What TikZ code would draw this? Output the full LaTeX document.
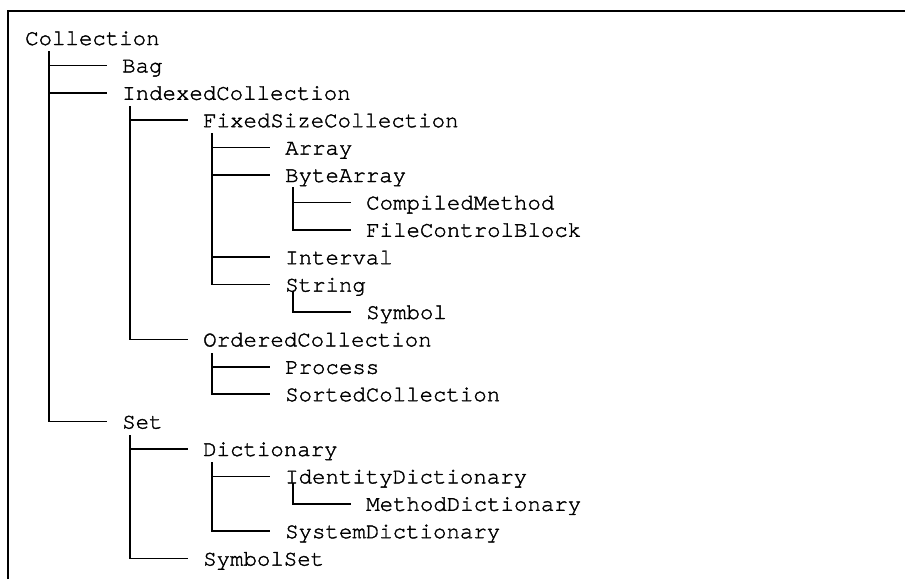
\documentclass[tikz,border=0pt]{standalone}
\usepackage{fontspec}
\setmonofont[FakeBold=1.6]{TeX Gyre Cursor}
\usetikzlibrary{calc}
\newcommand\mytreekids[3]{%
  \draw[conn] let \p1=([shift={(-73pt,7pt)}]#2.base west), \p2=([yshift=-#3]#1.base west) in
    (\x1,\y2) |- ([shift={(-16pt,7pt)}]#2.base west);}
\newcommand\mybranchto[1]{%
  \draw[conn] ([shift={(-73pt,7pt)}]#1.base west) -- ([shift={(-16pt,7pt)}]#1.base west);}
\begin{document}
\begin{tikzpicture}[x=1pt,y=-1pt,
  cls/.style={anchor=base west, inner sep=0pt, font=\ttfamily\fontsize{22.4}{22.4}\selectfont},
  conn/.style={line width=1.6pt, line cap=rect},
  frame/.style={line width=2pt}]
\useasboundingbox (0,0) rectangle (905,579);
\draw[frame] (7.5,579) -- (7.5,11) -- (905,11);
\node[cls] (collection) at (25,45) {Collection};
\node[cls] (bag) at (122,72.4) {Bag};
\node[cls] (indexed) at (122,99.8) {IndexedCollection};
\node[cls] (fixed) at (203,127.2) {FixedSizeCollection};
\node[cls] (array) at (285,154.6) {Array};
\node[cls] (bytearray) at (285,182) {ByteArray};
\node[cls] (compiled) at (366,209.4) {CompiledMethod};
\node[cls] (filecb) at (366,236.8) {FileControlBlock};
\node[cls] (interval) at (285,264.2) {Interval};
\node[cls] (string) at (285,291.6) {String};
\node[cls] (symbol) at (366,319) {Symbol};
\node[cls] (ordered) at (203,346.4) {OrderedCollection};
\node[cls] (process) at (285,373.8) {Process};
\node[cls] (sorted) at (285,401.2) {SortedCollection};
\node[cls] (set) at (122,428.6) {Set};
\node[cls] (dictionary) at (203,456) {Dictionary};
\node[cls] (identity) at (285,483.4) {IdentityDictionary};
\node[cls] (methoddict) at (366,510.8) {MethodDictionary};
\node[cls] (systemdict) at (285,538.2) {SystemDictionary};
\node[cls] (symbolset) at (203,565.6) {SymbolSet};
% Collection
\mytreekids{collection}{set}{7pt}
\mybranchto{bag}
\mybranchto{indexed}
% IndexedCollection
\mytreekids{indexed}{ordered}{7pt}
\mybranchto{fixed}
% FixedSizeCollection
\mytreekids{fixed}{string}{7pt}
\mybranchto{array}
\mybranchto{bytearray}
\mybranchto{interval}
% ByteArray
\mytreekids{bytearray}{filecb}{6pt}
\mybranchto{compiled}
% String
\mytreekids{string}{symbol}{0pt}
% OrderedCollection
\mytreekids{ordered}{sorted}{7pt}
\mybranchto{process}
% Set
\mytreekids{set}{symbolset}{7pt}
\mybranchto{dictionary}
% Dictionary
\mytreekids{dictionary}{systemdict}{7pt}
\mybranchto{identity}
% IdentityDictionary
\mytreekids{identity}{methoddict}{0pt}
\end{tikzpicture}
\end{document}
